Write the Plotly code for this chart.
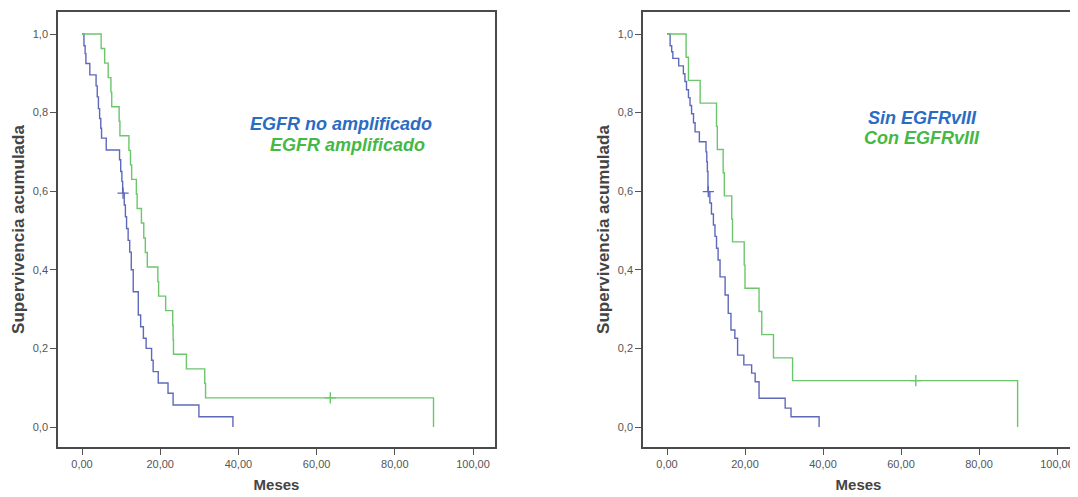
import plotly.graph_objects as go

# ---------------- data ----------------
left_blue_t = [0, 0.5, 0.8, 1.0, 2.0, 3.6, 3.9, 4.2, 4.5, 4.8, 5.0, 6.2, 9.6, 9.9, 10.2, 10.4,
               10.8, 11.1, 11.4, 11.8, 12.2, 12.6, 13.1, 14.4, 15.0, 15.7, 16.4, 17.8, 18.2,
               19.5, 22.0, 23.3, 29.9, 38.6]
left_blue_s = [1.0, 0.97, 0.95, 0.925, 0.896, 0.868, 0.84, 0.81, 0.785, 0.76, 0.735, 0.705,
               0.68, 0.65, 0.625, 0.595, 0.565, 0.535, 0.505, 0.475, 0.445, 0.40, 0.344,
               0.285, 0.255, 0.226, 0.2, 0.17, 0.141, 0.112, 0.086, 0.056, 0.026, 0.0]
left_blue_cens_t = [10.5]
left_blue_cens_s = [0.595]

left_green_t = [0, 4.9, 5.8, 6.7, 7.4, 7.6, 9.5, 9.7, 12.0, 12.4, 12.7, 13.9, 14.1, 15.2,
                15.8, 16.2, 16.7, 19.4, 19.6, 21.4, 23.2, 23.3, 23.4, 26.7, 31.4, 31.6, 89.9]
left_green_s = [1.0, 0.963, 0.926, 0.889, 0.852, 0.815, 0.778, 0.741, 0.704, 0.667, 0.630,
                0.593, 0.556, 0.519, 0.481, 0.444, 0.407, 0.370, 0.333, 0.296, 0.259, 0.222,
                0.185, 0.148, 0.111, 0.074, 0.0]
left_green_cens_t = [63.5]
left_green_cens_s = [0.074]

right_blue_t = [0, 0.8, 1.2, 1.5, 3.0, 4.2, 4.6, 5.0, 5.5, 5.9, 6.3, 6.8, 7.2, 8.3, 10.0,
                10.2, 10.35, 10.5, 11.0, 11.4, 11.9, 12.3, 12.7, 13.1, 13.6, 14.9, 15.7,
                16.4, 17.4, 18.1, 19.7, 21.7, 22.6, 23.6, 30.3, 31.8, 39.0]
right_blue_s = [1.0, 0.97, 0.955, 0.938, 0.919, 0.899, 0.879, 0.858, 0.838, 0.818, 0.797,
                0.774, 0.751, 0.726, 0.70, 0.675, 0.65, 0.599, 0.57, 0.542, 0.514, 0.485,
                0.455, 0.425, 0.382, 0.336, 0.289, 0.247, 0.226, 0.183, 0.158, 0.137,
                0.115, 0.073, 0.048, 0.026, 0.0]
right_blue_cens_t = [10.6]
right_blue_cens_s = [0.599]

right_green_t = [0, 4.9, 5.5, 8.5, 12.7, 12.9, 14.4, 14.7, 16.6, 16.8, 19.8, 20.0, 23.6,
                 24.3, 27.3, 32.2, 89.9]
right_green_s = [1.0, 0.941, 0.882, 0.824, 0.765, 0.706, 0.647, 0.588, 0.529, 0.471, 0.412,
                 0.353, 0.294, 0.235, 0.176, 0.118, 0.0]
right_green_cens_t = [63.8]
right_green_cens_s = [0.118]

x_ticks = [0, 20, 40, 60, 80, 100]
y_ticks = [0.0, 0.2, 0.4, 0.6, 0.8, 1.0]

left_labels = ["EGFR no amplificado", "EGFR amplificado"]
right_labels = ["Sin EGFRvIII", "Con EGFRvIII"]
x_title = "Meses"
y_title = "Supervivencia acumulada"

# ---------------- styling ----------------
BLUE = "#5f69ba"
GREEN = "#6cc66c"
TXT_BLUE = "#2a6cc4"
TXT_GREEN = "#45b845"
FONT = "Liberation Sans, Arial, sans-serif"
OFF = 8  # page body margin
W, H = 1078 - OFF, 497 - OFF

fig = go.Figure()


def add_curve(t, s, ct, cs, color, xa, ya):
    fig.add_trace(go.Scatter(x=t, y=s, mode="lines", line=dict(color=color, width=1.4, shape="hv"),
                             xaxis=xa, yaxis=ya, showlegend=False, hoverinfo="skip"))
    fig.add_trace(go.Scatter(x=ct, y=cs, mode="markers",
                             marker=dict(symbol="cross-thin", size=8, line=dict(color=color, width=1.4)),
                             xaxis=xa, yaxis=ya, showlegend=False, hoverinfo="skip"))


add_curve(left_blue_t, left_blue_s, left_blue_cens_t, left_blue_cens_s, BLUE, "x", "y")
add_curve(left_green_t, left_green_s, left_green_cens_t, left_green_cens_s, GREEN, "x", "y")
add_curve(right_blue_t, right_blue_s, right_blue_cens_t, right_blue_cens_s, BLUE, "x2", "y2")
add_curve(right_green_t, right_green_s, right_green_cens_t, right_green_cens_s, GREEN, "x2", "y2")


def px_x(a):
    return (a - OFF) / W


def px_y(b):
    return 1 - (b - OFF) / H


ydom = [px_y(447), px_y(12)]
y_range = [-20 / 393, 1 + 22 / 393]

common_x = dict(tickvals=x_ticks, tickformat=".2f", ticks="outside", ticklen=6, tickwidth=1,
                tickcolor="#555", showline=True, linecolor="#4a4a4a", linewidth=1.5, mirror=True,
                showgrid=False, zeroline=False, tickfont=dict(family=FONT, size=11, color="#555"),
                title=dict(text="<b>" + x_title + "</b>", font=dict(family=FONT, size=15, color="#444"),
                           standoff=11))
common_y = dict(tickvals=y_ticks, tickformat=".1f", ticks="outside", ticklen=6, tickwidth=1,
                tickcolor="#555", showline=True, linecolor="#4a4a4a", linewidth=1.5, mirror=True,
                showgrid=False, zeroline=False, tickfont=dict(family=FONT, size=11, color="#555"),
                range=y_range, domain=ydom,
                title=dict(text="<b>" + y_title + "</b>", font=dict(family=FONT, size=17, color="#444"),
                           standoff=4))

fig.update_layout(
    width=W, height=H,
    margin=dict(l=0, r=0, t=0, b=0),
    paper_bgcolor="white", plot_bgcolor="white",
    separators=",.",
    font=dict(family=FONT),
    xaxis=dict(domain=[px_x(58), px_x(495)], range=[-24 / 3.91, (495 - 82) / 3.91], anchor="y", **common_x),
    yaxis=dict(anchor="x", **common_y),
    xaxis2=dict(domain=[px_x(643), px_x(1074)], range=[-24 / 3.9, (1074 - 667) / 3.9], anchor="y2", **common_x),
    yaxis2=dict(anchor="x2", **common_y),
)

ann_font = dict(family=FONT, size=18)
anns = [
    (341, 124, left_labels[0], TXT_BLUE),
    (347, 145, left_labels[1], TXT_GREEN),
    (922, 118, right_labels[0], TXT_BLUE),
    (922, 138, right_labels[1], TXT_GREEN),
]
for x, y, txt, col in anns:
    fig.add_annotation(x=px_x(x), y=px_y(y), xref="paper", yref="paper", text="<b><i>" + txt + "</i></b>",
                       showarrow=False, xanchor="center", yanchor="middle",
                       font=dict(color=col, **ann_font))

fig.write_html("out.html")
